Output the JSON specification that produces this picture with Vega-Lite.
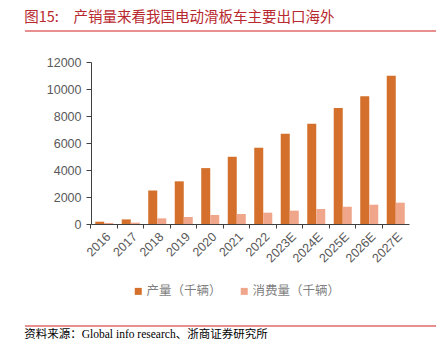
{
  "$schema": "https://vega.github.io/schema/vega-lite/v6.json",
  "padding": {"left": 24, "top": 9, "right": 8, "bottom": 5},
  "background": "white",
  "spacing": 24,
  "resolve": {"legend": {"color": "independent"}},
  "config": {
    "view": {"stroke": null},
    "font": "Liberation Sans"
  },
  "vconcat": [
    {
      "width": 318,
      "height": 1,
      "data": {"values": [{"k": "header"}]},
      "title": {
        "text": "图15:　产销量来看我国电动滑板车主要出口海外",
        "anchor": "start",
        "frame": "bounds",
        "font": "Noto Sans CJK SC",
        "fontSize": 14.5,
        "fontWeight": "normal",
        "color": "#B8292F",
        "offset": 5
      },
      "mark": {"type": "rule", "color": "#E06A6A", "strokeWidth": 1.5, "clip": false},
      "encoding": {
        "x": {"datum": -0.2075, "type": "quantitative", "scale": {"domain": [0, 1], "nice": false, "zero": false}, "axis": null},
        "x2": {"datum": 1.085},
        "y": {"value": 0}
      }
    },
    {
      "width": 318,
      "height": 162,
      "data": {
        "values": [
          {"year": "2016", "series": "产量（千辆）", "value": 170},
          {"year": "2017", "series": "产量（千辆）", "value": 340},
          {"year": "2018", "series": "产量（千辆）", "value": 2490},
          {"year": "2019", "series": "产量（千辆）", "value": 3160},
          {"year": "2020", "series": "产量（千辆）", "value": 4140},
          {"year": "2021", "series": "产量（千辆）", "value": 4980},
          {"year": "2022", "series": "产量（千辆）", "value": 5650},
          {"year": "2023E", "series": "产量（千辆）", "value": 6690},
          {"year": "2024E", "series": "产量（千辆）", "value": 7430},
          {"year": "2025E", "series": "产量（千辆）", "value": 8590},
          {"year": "2026E", "series": "产量（千辆）", "value": 9460},
          {"year": "2027E", "series": "产量（千辆）", "value": 10980},
          {"year": "2016", "series": "消费量（千辆）", "value": 80},
          {"year": "2017", "series": "消费量（千辆）", "value": 100},
          {"year": "2018", "series": "消费量（千辆）", "value": 420},
          {"year": "2019", "series": "消费量（千辆）", "value": 520},
          {"year": "2020", "series": "消费量（千辆）", "value": 670},
          {"year": "2021", "series": "消费量（千辆）", "value": 740},
          {"year": "2022", "series": "消费量（千辆）", "value": 840},
          {"year": "2023E", "series": "消费量（千辆）", "value": 990},
          {"year": "2024E", "series": "消费量（千辆）", "value": 1110},
          {"year": "2025E", "series": "消费量（千辆）", "value": 1280},
          {"year": "2026E", "series": "消费量（千辆）", "value": 1430},
          {"year": "2027E", "series": "消费量（千辆）", "value": 1580}
        ]
      },
      "mark": {"type": "bar"},
      "encoding": {
        "x": {
          "field": "year", "type": "nominal", "sort": null,
          "scale": {"paddingInner": 0.32, "paddingOuter": 0.16},
          "axis": {
            "title": null, "labelAngle": -45, "labelFontSize": 12.5, "labelColor": "#595959",
            "domainColor": "#404040", "tickColor": "#404040", "tickSize": 4,
            "bandPosition": -0.24, "labelPadding": 2
          }
        },
        "xOffset": {"field": "series", "type": "nominal", "sort": ["产量（千辆）", "消费量（千辆）"], "scale": {"paddingInner": 0, "paddingOuter": 0}},
        "y": {
          "field": "value", "type": "quantitative",
          "scale": {"domain": [0, 12000], "nice": false},
          "axis": {
            "title": null, "values": [0, 2000, 4000, 6000, 8000, 10000, 12000], "format": "d", "grid": false,
            "labelFontSize": 12.5, "labelColor": "#595959", "domainColor": "#404040",
            "tickColor": "#404040", "tickSize": 5, "labelPadding": 5
          }
        },
        "color": {
          "field": "series", "type": "nominal", "sort": ["产量（千辆）", "消费量（千辆）"],
          "scale": {"range": ["#D4702B", "#F0A68A"]},
          "legend": {
            "title": null, "orient": "none", "direction": "horizontal",
            "legendX": 38, "legendY": 220, "padding": 3,
            "symbolType": "square", "symbolSize": 49, "symbolStrokeWidth": 0,
            "labelFont": "Noto Sans CJK SC", "labelFontSize": 12.5, "labelColor": "#7F7F7F",
            "columnPadding": 16, "labelOffset": 2
          }
        }
      }
    },
    {
      "width": 318,
      "height": 1,
      "data": {"values": [{"k": "footer"}]},
      "title": {
        "text": "资料来源：Global info research、浙商证券研究所",
        "orient": "bottom",
        "anchor": "start",
        "frame": "bounds",
        "font": "Liberation Serif, Noto Sans CJK SC",
        "fontSize": 11.5,
        "fontWeight": "normal",
        "color": "#000000",
        "offset": 2
      },
      "mark": {"type": "rule", "color": "#E06A6A", "strokeWidth": 1.5, "clip": false},
      "encoding": {
        "x": {"datum": -0.2075, "type": "quantitative", "scale": {"domain": [0, 1], "nice": false, "zero": false}, "axis": null},
        "x2": {"datum": 1.085},
        "y": {"value": 0}
      }
    }
  ]
}
